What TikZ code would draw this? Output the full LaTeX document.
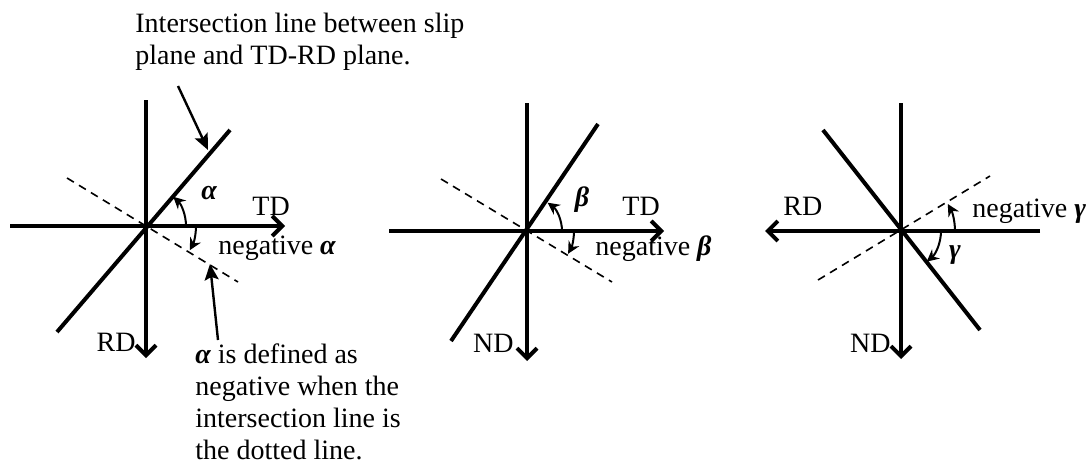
\documentclass[tikz,border=0pt]{standalone}
\usepackage{fontspec}
\setmainfont{Liberation Serif}
\usetikzlibrary{arrows.meta,calc}
\newcommand{\galpha}{{\bfseries\itshape α}}
\newcommand{\gbeta}{{\bfseries\itshape β}}
\newcommand{\ggamma}{{\bfseries\itshape γ}}
\begin{document}
\begin{tikzpicture}[x=0.5pt,y=-0.5pt,
  axis/.style={line width=2pt,-{Straight Barb[length=5pt,width=10pt]}},
  slip/.style={line width=2pt},
  dashline/.style={line width=0.8pt,dash pattern=on 4pt off 3pt},
  arcarrow/.style={line width=1pt,-{Stealth[length=6pt,width=6pt,inset=2pt]}},
  pointer/.style={line width=1.2pt,-{Stealth[length=8pt,width=7pt,inset=1.5pt]}},
  lbl/.style={inner sep=0pt,font=\fontsize{14}{16}\selectfont},
  every node/.style={inner sep=0pt}]
\useasboundingbox (0,0) rectangle (1088,466);
\fontsize{14}{16}\selectfont
% ---------- diagram 1 ----------
\coordinate (c1) at (146,226);
\coordinate (h1a) at (10,226);
\coordinate (h1b) at (285,226);
\coordinate (v1a) at (146,100);
\coordinate (v1b) at (146,358);
\coordinate (s1a) at (57,332);
\coordinate (s1b) at (230,130);
\coordinate (d1a) at (67,178);
\coordinate (d1b) at (238,282);
\draw[axis] (h1a) -- (h1b);
\draw[axis] (v1a) -- (v1b);
\draw[slip] (s1a) -- (s1b);
\draw[dashline] (d1a) -- (d1b);
\draw[arcarrow] ($(c1)+(40,0)$) arc[start angle=0,end angle=-47,radius=40];
\draw[arcarrow] ($(c1)+(50,0)$) arc[start angle=0,end angle=29,radius=50];
\node[lbl] (al1) at (209,193) {\galpha};
\node[lbl,anchor=base west] (td1) at (252,215) {TD};
\node[lbl,anchor=base west] (na1) at (218,254) {negative \galpha};
\node[lbl,anchor=base east] (rd1) at (136,351) {RD};
\node[lbl,anchor=base west,align=left] (top) at (135,64) {Intersection line between slip\\plane and TD-RD plane.};
\node[lbl,anchor=base west,align=left] (bot) at (195,459) {\galpha\ is defined as\\negative when the\\intersection line is\\the dotted line.};
\coordinate (p1s) at (178,86);
\coordinate (p1t) at (208,150);
\coordinate (p2s) at (218,340);
\coordinate (p2t) at (210,264);
\draw[pointer] (p1s) -- (p1t);
\draw[pointer] (p2s) -- (p2t);
% ---------- diagram 2 ----------
\coordinate (c2) at (527,231);
\coordinate (h2a) at (389,231);
\coordinate (h2b) at (664,231);
\coordinate (v2a) at (527,103);
\coordinate (v2b) at (527,361);
\coordinate (s2a) at (451,341);
\coordinate (s2b) at (598,124);
\coordinate (d2a) at (441,179);
\coordinate (d2b) at (612,282);
\draw[axis] (h2a) -- (h2b);
\draw[axis] (v2a) -- (v2b);
\draw[slip] (s2a) -- (s2b);
\draw[dashline] (d2a) -- (d2b);
\draw[arcarrow] ($(c2)+(35,0)$) arc[start angle=0,end angle=-54,radius=35];
\draw[arcarrow] ($(c2)+(47,0)$) arc[start angle=0,end angle=29,radius=47];
\node[lbl] (be2) at (582,200) {\gbeta};
\node[lbl,anchor=base west] (td2) at (622,215) {TD};
\node[lbl,anchor=base west] (nb2) at (595,255) {negative \gbeta};
\node[lbl,anchor=base east] (nd2) at (514,352) {ND};
% ---------- diagram 3 ----------
\coordinate (c3) at (901,231);
\coordinate (h3a) at (1040,231);
\coordinate (h3b) at (765,231);
\coordinate (v3a) at (901,103);
\coordinate (v3b) at (901,359);
\coordinate (s3a) at (823,130);
\coordinate (s3b) at (980,330);
\coordinate (d3a) at (818,280);
\coordinate (d3b) at (990,176);
\draw[axis] (h3a) -- (h3b);
\draw[axis] (v3a) -- (v3b);
\draw[slip] (s3a) -- (s3b);
\draw[dashline] (d3a) -- (d3b);
\draw[arcarrow] ($(c3)+(54,0)$) arc[start angle=0,end angle=-30,radius=54];
\draw[arcarrow] ($(c3)+(40,0)$) arc[start angle=0,end angle=50,radius=40];
\node[lbl] (ga3) at (955,255) {\ggamma};
\node[lbl,anchor=base west] (rd3) at (783,215) {RD};
\node[lbl,anchor=base west] (ng3) at (972,217) {negative \ggamma};
\node[lbl,anchor=base east] (nd3) at (891,352) {ND};
\end{tikzpicture}
\end{document}
